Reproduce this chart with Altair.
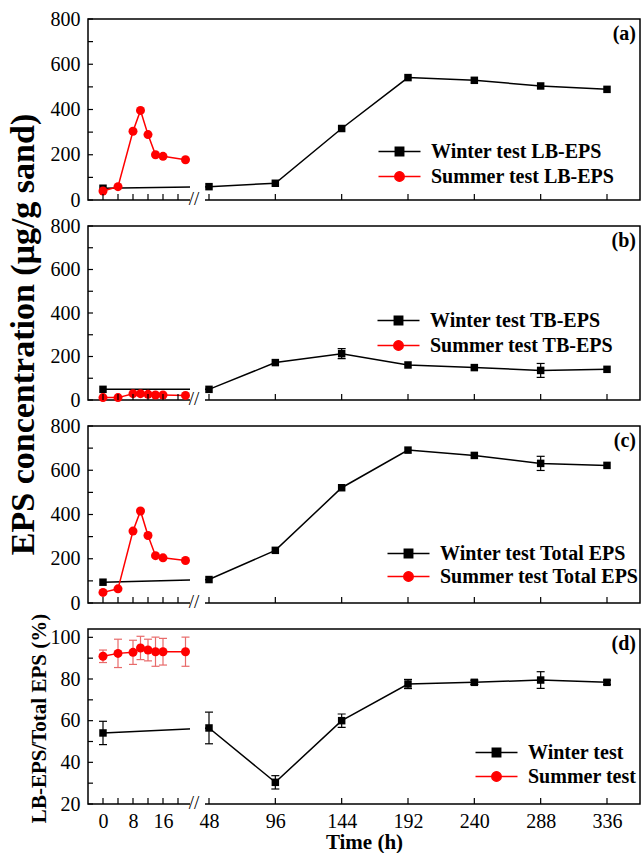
import altair as alt
import pandas as pd

SERIF = "Liberation Serif"

# ---------------- data ----------------
summer_t = [0, 4, 8, 10, 12, 14, 16, 22]
winter_t = [0, 48, 96, 144, 192, 240, 288, 336]

lb_winter = [52, 59, 74, 316, 541, 529, 504, 489]
lb_winter_err = [0, 0, 0, 0, 0, 0, 0, 0]
lb_summer = [40, 59, 304, 396, 289, 200, 193, 178]
lb_summer_err = [0, 0, 0, 0, 0, 0, 0, 0]

tb_winter = [49, 49, 172, 213, 161, 149, 136, 141]
tb_winter_err = [0, 0, 0, 23, 0, 0, 32, 0]
tb_summer = [11, 11, 29, 29, 26, 23, 23, 21]
tb_summer_err = [0, 0, 0, 0, 0, 0, 0, 0]

tot_winter = [94, 106, 238, 521, 691, 667, 631, 622]
tot_winter_err = [0, 0, 0, 0, 0, 0, 32, 0]
tot_summer = [48, 64, 325, 416, 305, 214, 204, 192]
tot_summer_err = [0, 0, 0, 0, 0, 0, 0, 0]

ratio_winter = [54.1, 56.5, 30.4, 60.0, 77.6, 78.4, 79.5, 78.4]
ratio_winter_err = [5.6, 7.6, 3.2, 3.2, 2.2, 1.0, 4.0, 1.0]
ratio_summer = [90.9, 92.3, 92.8, 94.9, 93.9, 93.1, 93.1, 93.1]
ratio_summer_err = [3.0, 6.8, 5.8, 5.6, 5.2, 7.0, 6.4, 7.0]

x_tick_times = [0, 4, 8, 12, 16, 20, 48, 96, 144, 192, 240, 288, 336]
x_label_times = [0, 8, 16, 48, 96, 144, 192, 240, 288, 336]

# ---------------- styling / layout ----------------
W = 552
RED = "#ff0000"
ERR_RED = "#e86a6a"
SEG1_SCALE = 3.75           # px per hour on the 0-24 h segment
SEG2_SCALE = 398 / 288      # px per hour on the 48-336 h segment
GAP = (102, 117)            # broken-axis gap (in x-scale units)

SQ_PATH = "M-2,0H2M-0.4,-0.4H0.4V0.4H-0.4Z"
CI_PATH = "M-2,0H2M0.45,0A0.45,0.45,0,1,1,-0.45,0A0.45,0.45,0,1,1,0.45,0Z"


def to_pos(t):
    # broken time axis: 0-24 h stretched, then 48-336 h
    if t <= 24:
        return 15 + t * SEG1_SCALE
    return 121 + (t - 48) * SEG2_SCALE


LABEL_EXPR = (
    "datum.value < 110 ? format(round((datum.value - 15) / %f), 'd') : "
    "format(round((datum.value - 121) / %f + 48), 'd')" % (SEG1_SCALE, SEG2_SCALE)
)


def panel(tag, wv, we, sv, se, labels, ydom, ytick_step, ylabel_step, H,
          lx, ly, mask_top, bottom=False, ytitle=None, ytitle_x=0, ytitle_y=0,
          ytitle_size=20, row_pad=3):
    rows = []
    for t, v, e in zip(winter_t, wv, we):
        rows.append(dict(season="w", series=labels[0], t=t, pos=to_pos(t), v=v,
                         lo=v - e, hi=v + e, e=e, ec="black"))
    for t, v, e in zip(summer_t, sv, se):
        rows.append(dict(season="s", series=labels[1], t=t, pos=to_pos(t), v=v,
                         lo=v - e, hi=v + e, e=e, ec=ERR_RED))
    df = pd.DataFrame(rows)

    xs = alt.Scale(domain=[0, W], nice=False, zero=False)
    ys = alt.Scale(domain=list(ydom), nice=False, zero=False)
    cs = alt.Scale(domain=["w", "s"], range=["black", RED])

    y_label_vals = list(range(int(ydom[0]), int(ydom[1]) + 1, ylabel_step))
    y_axis_kw = dict(values=y_label_vals, ticks=False, domain=False, grid=False,
                     labelFont=SERIF, labelFontSize=20, labelColor="black",
                     labelPadding=8, labelFlush=False)
    if ytitle:
        y_axis_kw.update(titleFont=SERIF, titleFontSize=ytitle_size,
                         titleFontWeight="bold", titleColor="black",
                         titleX=ytitle_x, titleY=ytitle_y,
                         titleBaseline="alphabetic", titleAlign="center")
    y_axis = alt.Axis(**y_axis_kw)
    y_title = ytitle if ytitle else None

    if bottom:
        x_axis = alt.Axis(values=[to_pos(t) for t in x_label_times], labelExpr=LABEL_EXPR,
                          ticks=False, domain=False, grid=False,
                          labelFont=SERIF, labelFontSize=20, labelColor="black",
                          labelPadding=7, labelFlush=False,
                          titleFont=SERIF, titleFontSize=21,
                          titleFontWeight="bold", titleColor="black", titlePadding=0)
        x_title = "Time (h)"
    else:
        x_axis = alt.Axis(values=[to_pos(t) for t in x_label_times], labels=False,
                          ticks=False, domain=False, grid=False)
        x_title = None

    def X(field):
        return alt.X(field, scale=xs, axis=x_axis, title=x_title)

    def Y(field):
        return alt.Y(field, scale=ys, axis=y_axis, title=y_title)

    base = alt.Chart(df)

    line = base.mark_line(strokeWidth=1.5).encode(
        x=X("pos:Q"), y=Y("v:Q"),
        color=alt.Color("season:N", scale=cs, legend=None),
        detail="season:N",
    )

    mask_df = pd.DataFrame({"x1": [GAP[0]], "x2": [GAP[1]],
                            "y1": [ydom[0] - (ydom[1] - ydom[0]) * 0.02],
                            "y2": [mask_top]})
    mask = alt.Chart(mask_df).mark_rect(color="white", opacity=1).encode(
        x=X("x1:Q"), x2="x2:Q", y=Y("y1:Q"), y2="y2:Q",
    )

    errs = base.transform_filter("datum.e > 0")
    err_rule = errs.mark_rule(strokeWidth=1.2).encode(
        x=X("pos:Q"), y=Y("lo:Q"), y2="hi:Q",
        color=alt.Color("ec:N", scale=None),
    )
    err_caps = errs.transform_fold(["lo", "hi"], as_=["k", "cap"]).mark_tick(
        orient="horizontal", size=8, thickness=1.2, opacity=1).encode(
        x=X("pos:Q"), y=Y("cap:Q"),
        color=alt.Color("ec:N", scale=None),
    )

    squares = base.transform_filter("datum.season == 'w'").mark_square(
        size=56, opacity=1, color="black").encode(x=X("pos:Q"), y=Y("v:Q"))
    circles = base.transform_filter("datum.season == 's'").mark_circle(
        size=81, opacity=1, color=RED).encode(x=X("pos:Q"), y=Y("v:Q"))

    yt_df = pd.DataFrame({"v": list(range(int(ydom[0]), int(ydom[1]) + 1, ytick_step))})
    yticks = alt.Chart(yt_df).mark_rule(color="black", strokeWidth=1.2).encode(
        y=Y("v:Q"), x=alt.value(0), x2=alt.value(5))
    xt_df = pd.DataFrame({"pos": [to_pos(t) for t in x_tick_times]})
    xticks = alt.Chart(xt_df).mark_rule(color="black", strokeWidth=1.2).encode(
        x=X("pos:Q"), y=alt.value(H), y2=alt.value(H - 6))

    slash = alt.Chart(pd.DataFrame({"s": ["//"]})).mark_text(
        font=SERIF, fontSize=19, color="black", align="center", baseline="middle").encode(
        text="s:N", x=alt.value(106), y=alt.value(H - 1))

    tag_layer = alt.Chart(pd.DataFrame({"s": [tag]})).mark_text(
        font=SERIF, fontSize=20, fontWeight="bold", color="black",
        align="right", baseline="middle").encode(
        text="s:N", x=alt.value(W - 4), y=alt.value(15))

    leg_kw = dict(orient="none", legendX=lx, legendY=ly, title=None,
                  labelFont=SERIF, labelFontSize=20, labelFontWeight="bold",
                  labelColor="black", labelLimit=0, symbolSize=441,
                  symbolStrokeWidth=1.5, labelOffset=20, rowPadding=row_pad, padding=0)
    lscale = alt.Scale(domain=labels, range=["black", RED])
    legend_layer = base.transform_filter("datum.v < -1e9").mark_point(
        filled=True, opacity=1, size=441).encode(
        x=X("pos:Q"), y=Y("v:Q"),
        fill=alt.Fill("series:N", scale=lscale, legend=alt.Legend(**leg_kw)),
        stroke=alt.Stroke("series:N", scale=lscale, legend=alt.Legend(**leg_kw)),
        shape=alt.Shape("series:N", scale=alt.Scale(domain=labels, range=[SQ_PATH, CI_PATH]),
                        legend=alt.Legend(**leg_kw)),
    )

    return alt.layer(line, mask, err_rule, err_caps, squares, circles, xticks, yticks,
                     slash, tag_layer, legend_layer).properties(width=W, height=H)


pa = panel("(a)", lb_winter, lb_winter_err, lb_summer, lb_summer_err,
           ["Winter test LB-EPS", "Summer test LB-EPS"], (0, 800), 100, 200, 181,
           300, 121, 150)
pb = panel("(b)", tb_winter, tb_winter_err, tb_summer, tb_summer_err,
           ["Winter test TB-EPS", "Summer test TB-EPS"], (0, 800), 100, 200, 174,
           299, 83, 150, ytitle="EPS concentration (μg/g sand)", ytitle_x=-55,
           ytitle_y=108, ytitle_size=34)
pc = panel("(c)", tot_winter, tot_winter_err, tot_summer, tot_summer_err,
           ["Winter test Total EPS", "Summer test Total EPS"], (0, 800), 100, 200, 177,
           309, 116, 170, row_pad=1)
pd_ = panel("(d)", ratio_winter, ratio_winter_err, ratio_summer, ratio_summer_err,
            ["Winter test", "Summer test"], (20, 104), 10, 20, 175,
            397, 112, 62, bottom=True, ytitle="LB-EPS/Total EPS (%)", ytitle_x=-43,
            ytitle_y=89, ytitle_size=21, row_pad=2)

chart = alt.vconcat(pa, pb, pc, pd_, spacing=26, bounds="flush").resolve_scale(
    color="independent", fill="independent", stroke="independent", shape="independent"
).resolve_legend(
    fill="independent", stroke="independent", shape="independent", color="independent"
).properties(
    padding={"left": 5, "top": 8, "right": 0, "bottom": 0}
).configure(font=SERIF).configure_view(stroke="black", strokeWidth=1.5)

chart.save("out.html", embed_options={"renderer": "svg", "actions": False})
